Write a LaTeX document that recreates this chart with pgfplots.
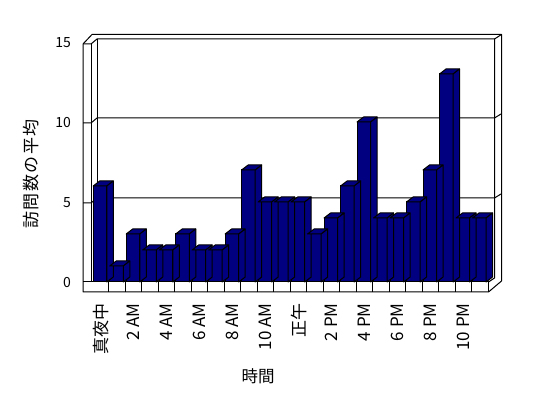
\documentclass[border=0pt]{standalone}
\usepackage{fontspec}
\setmainfont{Noto Sans CJK JP}
\usepackage{pgfplots}
\usepackage{pgfplotstable}
\pgfplotsset{compat=1.18}
\definecolor{barblue}{RGB}{0,0,128}

\pgfplotstableread{
h v
0 6
1 1
2 3
3 2
4 2
5 3
6 2
7 2
8 3
9 7
10 5
11 5
12 5
13 3
14 4
15 6
16 10
17 4
18 4
19 5
20 7
21 13
22 4
23 4
}\visits

\begin{document}
\begin{tikzpicture}
\path[use as bounding box] (0,0) rectangle (548pt,398pt);
\begin{scope}[x=1pt,y=-1pt,yshift=398pt,line width=1pt,line join=round]
  % outer silhouette (walls and floor)
  \draw[fill=white] (83,44) -- (92,34.5) -- (501.5,34.5) -- (501.5,281) -- (488.5,292) -- (83,292) -- cycle;
  % left wall front face and top
  \draw (91,44) -- (91,282);
  \draw (83,44) -- (91,44) -- (97,39) -- (494.5,39) -- (501.5,34.5);
  % back wall inner face
  \draw (97,39) -- (97,278);
  \draw (494.5,39) -- (494.5,278) -- (488.5,282);
  % gridlines with tick marks on the left wall
  \draw (83,123) -- (91,123) -- (97,118) -- (494.5,118) -- (501,114);
  \draw (83,203) -- (91,203) -- (97,198) -- (494.5,198) -- (501,194);
  % floor front face
  \draw (83,282) -- (488.5,282) -- (488.5,292);
  \foreach \k in {1,...,23} \draw ({92.5+16.49*\k},282) -- ++(0,10);
  % axis titles
  \node[font=\fontsize{16.5}{18}\selectfont] at (258,376) {時間};
  \node[font=\fontsize{17}{19}\selectfont\addfontfeature{LetterSpace=9},rotate=90] at (31.5,174) {訪問数の平均};
\end{scope}
\begin{axis}[
  at={(92.5pt,116pt)}, anchor=south west,
  scale only axis, width=395.76pt, height=240pt,
  xmin=-0.5, xmax=23.5, ymin=0, ymax=15,
  clip=false,
  axis line style={draw=none},
  major tick length=0pt,
  /pgf/number format/assume math mode=true,
  ytick={0,5,10,15},
  yticklabel style={font=\fontsize{14}{16}\selectfont, anchor=east, inner sep=0pt, xshift=-21.5pt, yshift=-1pt},
  xtick={0,2,...,22},
  xticklabels={真夜中,2 AM,4 AM,6 AM,8 AM,10 AM,正午,2 PM,4 PM,6 PM,8 PM,10 PM},
  xticklabel style={font=\fontsize{17}{19}\selectfont, yshift=-21pt, rotate=90, anchor=east, inner sep=0pt},
]
% depth faces (top and right side) of each bar
\addplot[scatter, only marks, mark=*, mark size=0pt, mark options={draw=none,fill=none},
  visualization depends on={\thisrow{v}*16 \as \barh},
  scatter/@pre marker code/.code={%
    \pgfscope
    \pgfsetlinewidth{1pt}%
    \pgfsetroundjoin
    \pgfsetfillcolor{barblue}%
    \pgfsetstrokecolor{black}%
    \pgfpathmoveto{\pgfpoint{-7.545pt}{0pt}}%
    \pgfpathlineto{\pgfpoint{6.055pt}{0pt}}%
    \pgfpathlineto{\pgfpoint{12.555pt}{5pt}}%
    \pgfpathlineto{\pgfpoint{-1.045pt}{5pt}}%
    \pgfpathclose
    \pgfusepath{fill,stroke}%
    \pgfpathmoveto{\pgfpoint{6.055pt}{0pt}}%
    \pgfpathlineto{\pgfpoint{12.555pt}{5pt}}%
    \pgfpathlineto{\pgfpoint{12.555pt}{5pt-\barh pt}}%
    \pgfpathlineto{\pgfpoint{6.055pt}{-\barh pt}}%
    \pgfpathclose
    \pgfusepath{fill,stroke}%
  },
  scatter/@post marker code/.code={\endpgfscope},
] table[x=h, y=v] {\visits};
% front faces
\addplot[ybar, bar width=13.6pt, bar shift=-0.745pt, fill=barblue, draw=black, line width=1pt]
  table[x=h, y=v] {\visits};
\end{axis}
\end{tikzpicture}
\end{document}
